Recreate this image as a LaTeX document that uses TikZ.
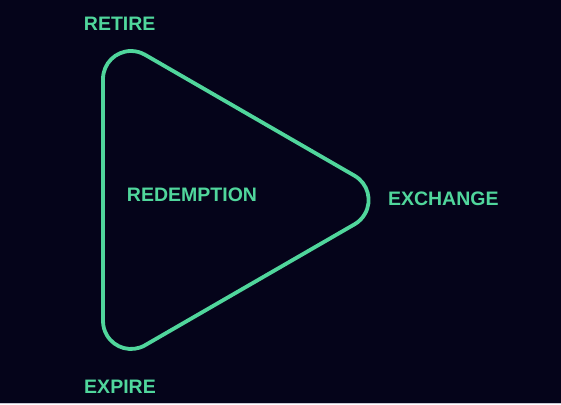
\documentclass[tikz,border=0pt]{standalone}
\usepackage{fontspec}
\setmainfont{Liberation Sans}
\definecolor{bgnavy}{HTML}{05041A}
\definecolor{mint}{HTML}{50D69C}
\definecolor{edgegray}{HTML}{C8C8D4}
\tikzset{
  lbl/.style={text=mint, font=\fontsize{19.5}{22}\selectfont\bfseries, inner sep=0pt},
  tri/.style={draw=mint, line width=3.8pt, line join=round}
}
\begin{document}
\begin{tikzpicture}[x=1pt,y=1pt]
\fill[bgnavy] (0,0) rectangle (561,404);
\fill[edgegray] (0,0) rectangle (561,1);
\useasboundingbox (0,0) rectangle (561,404);
\draw[tri] (103,83) -- (103,325) arc[start angle=180,end angle=60,radius=28]
  -- (354.6,228.25) arc[start angle=60,end angle=-60,radius=28]
  -- (145,58.75) arc[start angle=-60,end angle=-180,radius=28] -- cycle;
\node[lbl] (retire) at (119.7,380.2) {RETIRE};
\node[lbl] (exchange) at (443.3,205.7) {EXCHANGE};
\node[lbl] (redemption) at (192,209) {REDEMPTION};
\node[lbl] (expire) at (120,17.2) {EXPIRE};
\end{tikzpicture}
\end{document}
